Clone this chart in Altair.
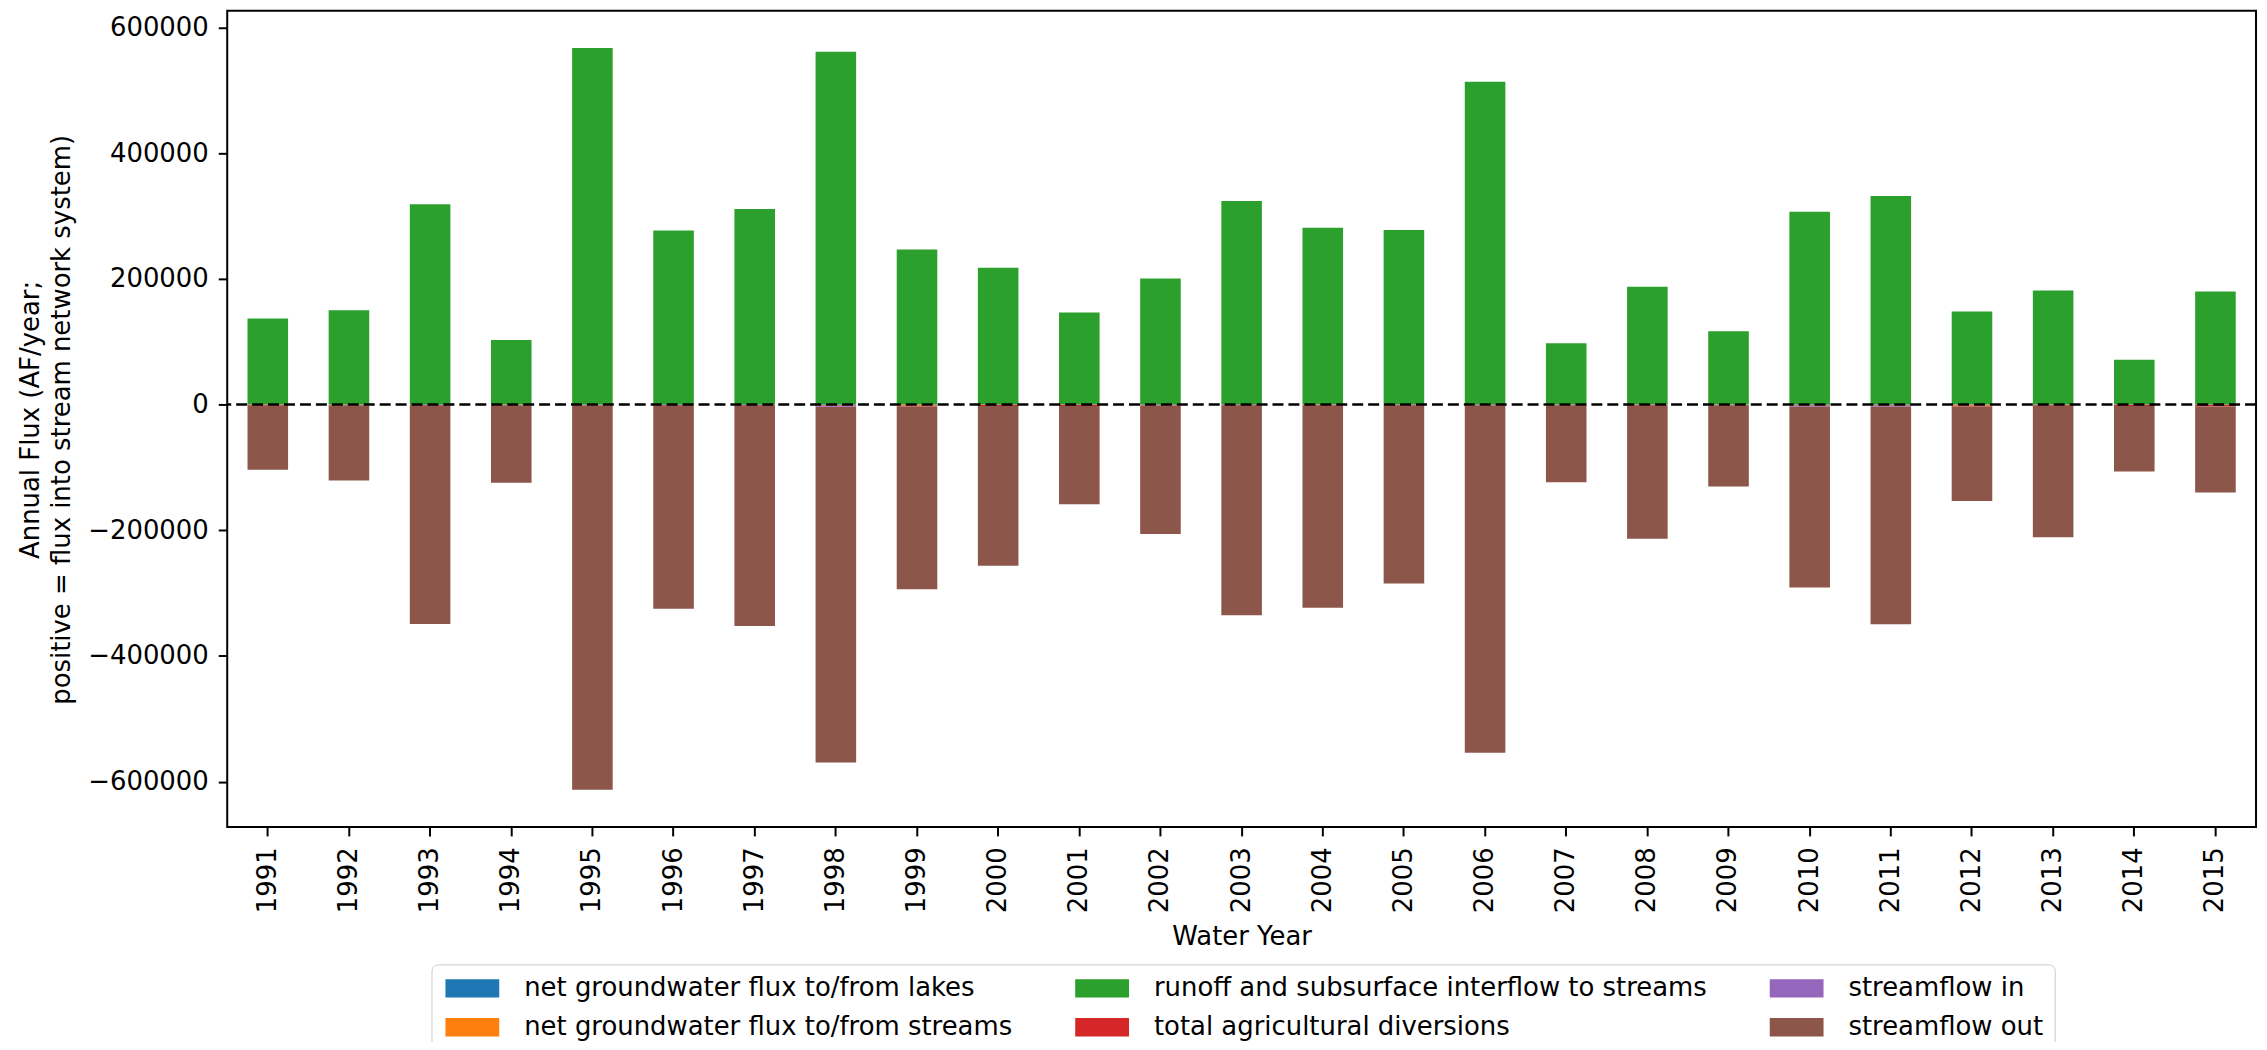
import altair as alt
import pandas as pd

years = [str(y) for y in range(1991, 2016)]

series_names = [
    "net groundwater flux to/from lakes",
    "net groundwater flux to/from streams",
    "runoff and subsurface interflow to streams",
    "total agricultural diversions",
    "streamflow in",
    "streamflow out",
]
series_colors = ["#1f77b4", "#ff7f0e", "#2ca02c", "#d62728", "#9467bd", "#8c564b"]

lakes = [-400, -300, -500, -300, -600, -500, -500, -1200, -400, -400, -300, -1000, -500,
         -400, -500, -600, -300, -400, -300, -600, -600, -400, -400, -300, -400]
streams = [-300, -300, -300, -300, -300, -300, -300, -300, -1500, -300, -300, -300, -300,
           -300, -300, -300, -300, -300, -300, -300, -300, -1500, -300, -300, -300]
runoff = [137000, 150000, 318900, 102900, 567500, 276900, 311200, 561500, 246900, 217700,
          146600, 200600, 324100, 281200, 277800, 513500, 97700, 187700, 116600, 306900,
          331800, 148300, 181700, 71200, 180000]
ag_div = [-1000, -1000, -1000, -1000, -1000, -1000, -1000, -1000, -1000, -1500, -1500, -1000,
          -1000, -1000, -1000, -1000, -1000, -1000, -1000, -1000, -1000, -1000, -1000, -1500, -2500]
stream_in = [0, 0, 0, 0, 0, 0, 0, -1500, 0, 0, 0, 0, 0, 0, 0, 0, 0, 0, 0, -1500, -1500,
             0, 0, 0, 0]
stream_out = [-102000, -119300, -347100, -122700, -611000, -323100, -350500, -565200, -290800,
              -254100, -156500, -203500, -333400, -321500, -282800, -551900, -121900, -211800,
              -128700, -287600, -346200, -150300, -209200, -104200, -136500]

y_ticks = [-600000, -400000, -200000, 0, 200000, 400000, 600000]

all_series = [lakes, streams, runoff, ag_div, stream_in, stream_out]
rows = []
for si, (name, vals) in enumerate(zip(series_names, all_series)):
    for yr, v in zip(years, vals):
        rows.append({"year": yr, "series": name, "value": v, "ord": si})
df = pd.DataFrame(rows)

FONT = "DejaVu Sans"
FS = 26

bars = alt.Chart(df).mark_bar().encode(
    x=alt.X("year:N", title="Water Year", sort=years,
            scale=alt.Scale(paddingInner=0.5, paddingOuter=0.25),
            axis=alt.Axis(labelAngle=270, labelFontSize=FS, labelPadding=11,
                          titleFontSize=FS, titleFontWeight="normal",
                          titleX=1018, titleY=118, titleBaseline="alphabetic",
                          titleAlign="center", domain=False,
                          tickColor="black", tickWidth=2, tickSize=9,
                          labelColor="black", titleColor="black")),
    y=alt.Y("value:Q", stack="zero",
            title=["Annual Flux (AF/year;", "positive = flux into stream network system)"],
            scale=alt.Scale(domain=[-671900, 626500], nice=False, zero=False),
            axis=alt.Axis(values=y_ticks, format="d", grid=False, labelFontSize=FS,
                          labelPadding=10, titleFontSize=FS, titleFontWeight="normal",
                          titleAngle=270, titleX=-197, titleY=410, titleAlign="center",
                          titleBaseline="middle", titleLineHeight=31, titleLimit=2000,
                          domain=False, tickColor="black", tickWidth=2, tickSize=9,
                          labelColor="black", titleColor="black")),
    color=alt.Color("series:N",
                    scale=alt.Scale(domain=series_names, range=series_colors),
                    legend=alt.Legend(orient="none", legendX=205, legendY=957, columns=3,
                                      title=None,
                                      symbolType="M-1,-0.92L4.4,-0.92L4.4,0.92L-1,0.92Z",
                                      symbolSize=400, symbolStrokeWidth=0, symbolOpacity=1,
                                      labelFontSize=FS, labelLimit=2000, labelOffset=56,
                                      labelColor="black",
                                      columnPadding=59, rowPadding=13, padding=11,
                                      strokeColor="#cccccc", fillColor="white",
                                      cornerRadius=6)),
    order=alt.Order("ord:Q", sort="ascending"),
)

zero_line = alt.Chart(pd.DataFrame({"y": [0]})).mark_rule(
    color="black", strokeWidth=2.5, strokeDash=[11, 5]
).encode(y="y:Q")

chart = alt.layer(bars, zero_line).properties(
    width=2036, height=819,
    padding={"left": 220, "top": 1, "right": 3, "bottom": 214},
    autosize=alt.AutoSizeParams(type="none"),
    background="white",
).configure(font=FONT).configure_view(
    stroke="black", strokeWidth=2
)

chart.save("out.html", embed_options={"renderer": "svg", "actions": False})
